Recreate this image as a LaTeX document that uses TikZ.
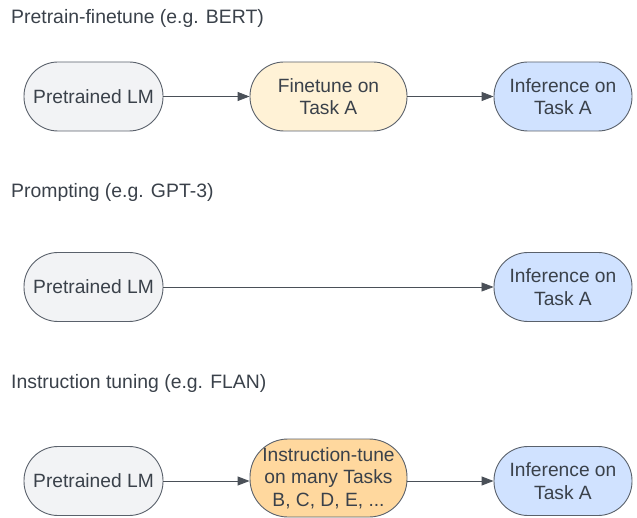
\documentclass[tikz,border=0pt]{standalone}
\usepackage{fontspec}
\setmainfont{Liberation Sans}
\usetikzlibrary{arrows.meta}
\definecolor{txt}{HTML}{3A414A}
\definecolor{bord}{HTML}{5A616B}
\definecolor{graybg}{HTML}{F2F3F5}
\definecolor{yellowbg}{HTML}{FFF2D6}
\definecolor{bluebg}{HTML}{D0E2FF}
\definecolor{orangebg}{HTML}{FFD89E}
\definecolor{arr}{HTML}{4A5058}
\tikzset{
  pill/.style={draw=bord, line width=0.9pt, rounded corners=34pt, minimum height=69pt,
    inner sep=0pt, align=center, text=txt, font=\fontsize{19.2}{22.5}\selectfont},
  title/.style={anchor=west, text=txt, inner sep=0pt, font=\fontsize{19.4}{23}\selectfont},
  conn/.style={draw=arr, line width=0.9pt, -{Triangle[length=12pt,width=9pt]}},
}
\begin{document}
\begin{tikzpicture}[x=1pt,y=-1pt]
\useasboundingbox (0,0) rectangle (637,518);
\node[title] (t1) at (11,18) {Pretrain-finetune (e.g. BERT)};
\node[title] (t2) at (11,192) {Prompting (e.g. GPT-3)};
\node[title] (t3) at (11,383) {Instruction tuning (e.g. FLAN)};

\node[pill, fill=graybg, minimum width=139pt] (p1) at (93.5,96.5) {Pretrained LM};
\node[pill, fill=yellowbg, minimum width=157pt] (f1) at (328.5,96.5) {Finetune on\\Task A};
\node[pill, fill=bluebg, minimum width=138pt] (i1) at (563,96.5) {Inference on\\Task A};

\node[pill, fill=graybg, minimum width=139pt] (p2) at (93.5,287) {Pretrained LM};
\node[pill, fill=bluebg, minimum width=138pt] (i2) at (563,287) {Inference on\\Task A};

\node[pill, fill=graybg, minimum width=139pt] (p3) at (93.5,481) {Pretrained LM};
\node[pill, fill=orangebg, minimum width=157pt, minimum height=78pt, rounded corners=38pt] (f3) at (328.5,478) {Instruction-tune\\on many Tasks\\B, C, D, E, ...};
\node[pill, fill=bluebg, minimum width=138pt] (i3) at (563,481) {Inference on\\Task A};

\draw[conn] (p1) -- (f1);
\draw[conn] (f1) -- (i1);
\draw[conn, line width=0.6pt] (p2) -- (i2);
\draw[conn] (p3.east) -- (f3.west |- p3.east);
\draw[conn] (f3.east |- i3.west) -- (i3.west);
\end{tikzpicture}
\end{document}
